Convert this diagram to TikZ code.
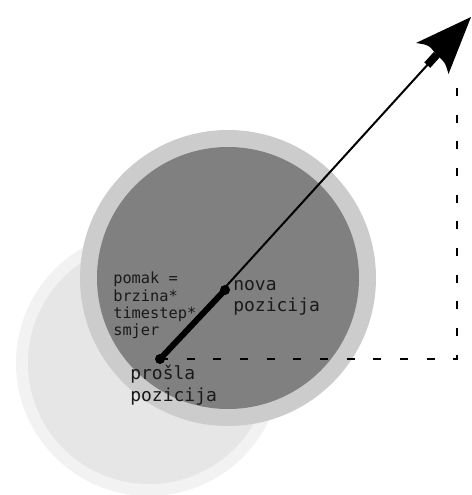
\documentclass[tikz,border=0pt]{standalone}
\usepackage{fontspec}
\setmonofont{DejaVu Sans Mono}
\usetikzlibrary{positioning}
\definecolor{ghostOuter}{HTML}{F2F2F2}
\definecolor{ghostInner}{HTML}{E6E6E6}
\definecolor{ringGrey}{HTML}{CCCCCC}
\definecolor{discGrey}{HTML}{808080}
\definecolor{inkDark}{HTML}{1A1A1A}

\begin{document}
\begin{tikzpicture}[
    x=0.75pt, y=-0.75pt,
    dot/.style={circle, fill=black, inner sep=0pt, minimum size=7.5pt},
    note/.style={font=\ttfamily\fontsize{13.5}{16}\selectfont, color=inkDark,
                 align=left, inner sep=0pt, anchor=north west},
    small/.style={note, font=\ttfamily\fontsize{11.5}{13}\selectfont},
    guide/.style={line width=1.5pt, dash pattern=on 6pt off 14pt},
    move/.style={line width=1.5pt}
]
    \useasboundingbox (0,0) rectangle (471,495);

    % --- old position ---
    \fill[ghostOuter] (149,363) circle (133);
    \fill[ghostInner] (149,363) circle (121);

    % --- new position ---
    \fill[ringGrey] (228,278) circle (148);
    \fill[discGrey] (228,278) circle (131);

    % --- points ---
    \node[dot] (old) at (160,359) {};
    \node[dot] (new) at (225,290) {};
    \coordinate (tip) at (471,17);
    \coordinate (neck) at (436.7,54.7);
    \coordinate (corner) at (457,359);

    \draw[guide] (old.center) -- (corner) -- (457,75);
    \draw[move] (old.center) -- (neck);
    \draw[line width=4.5pt] (old.center) -- (new.center);

    % --- arrowhead ---
    \draw[line width=6pt] (427.3,65.1) -- (neck);
    \fill (tip) -- (416,43) .. controls (429,45) .. (436.5,55)
          .. controls (445,62) .. (448.5,74) -- cycle;

    % --- labels ---
    \node[small] (formula) at (113,272) {pomak =\\brzina*\\timestep*\\smjer};
    \node[note] (newlbl) at (233,280) {nova\\pozicija};
    \node[note] (oldlbl) at (130,365) {prošla\\pozicija};
\end{tikzpicture}
\end{document}
